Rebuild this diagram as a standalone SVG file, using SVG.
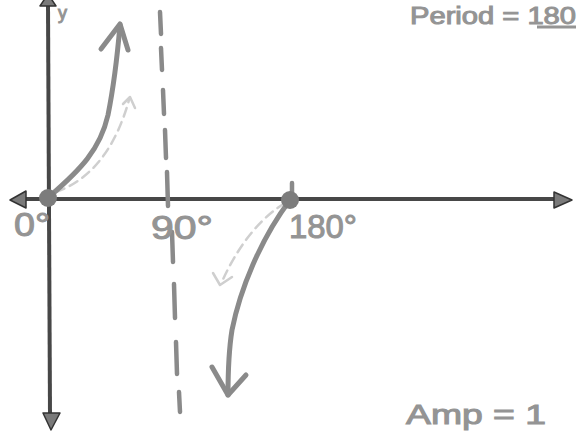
<svg xmlns="http://www.w3.org/2000/svg" width="580" height="434" viewBox="0 0 580 434">
<style>
.axis{stroke:#474747;stroke-width:4;fill:none}
.head{fill:#7a7a7a;stroke:#333;stroke-width:1.5;stroke-linejoin:round}
.curve{stroke:#8a8a8a;stroke-width:5;fill:none;stroke-linecap:round;stroke-linejoin:round}
.light{stroke:#cfcfcf;stroke-width:2.5;fill:none;stroke-linecap:round;stroke-dasharray:9 6}
.lighthead{stroke:#cfcfcf;stroke-width:2.5;fill:none;stroke-linecap:round;stroke-linejoin:round}
.asym{stroke:#8a8a8a;stroke-width:4.5;fill:none;stroke-linecap:round}
.lbl{font-family:"Liberation Sans",Arial,sans-serif;font-size:33px;fill:#949494;stroke:#949494;stroke-width:1}
.dot{fill:#7c7c7c}
</style>
<rect width="580" height="434" fill="#fff"/>
<g id="axes">
<line class="axis" x1="24" y1="199" x2="556" y2="199"/>
<polygon class="head" points="10,200 26,191 26,208"/>
<polygon class="head" points="572,200 554,192 554,208"/>
<line class="axis" x1="48" y1="4" x2="50" y2="415"/>
<polygon class="head" points="51,430 43,413 60,413"/>
<polygon class="head" points="48,-6 40,6 56,6"/>
</g>
<g id="asymptote">
<path class="asym" d="M160,12 L161,34 M161,48 L162,70 M163,90 L164,114 M165,130 L166,158 M167,172 L168,206 M172,232 L173,262 M174,284 L175,318 M176,342 L177,374 M179,392 L180,412"/>
</g>
<g id="ticks">
<line class="asym" x1="292" y1="183" x2="292" y2="195"/>
</g>
<g id="connectors">
<path class="light" d="M56,192 C90,180 115,150 129,100"/>
<path class="lighthead" d="M123,104 L130,97 L135,108"/>
<path class="curve" d="M50,196 C80,170 100,150 108,115 C113,90 117,60 120,25"/>
<path class="curve" d="M101,49 L120,24 L128,50"/>
<path class="light" d="M285,203 C265,215 240,240 221,284"/>
<path class="lighthead" d="M213,273 L220,285 L232,277"/>
<path class="curve" d="M290,200 C260,240 240,290 232,330 C228,355 228,375 228,395"/>
<path class="curve" d="M212,367 L228,395 L246,375"/>
</g>
<g id="origin"><circle class="dot" cx="48" cy="198" r="9"/></g>
<g id="p180"><circle class="dot" cx="290" cy="200" r="9"/></g>
<g id="labels">
<text class="lbl" x="14" y="236" textLength="36" lengthAdjust="spacingAndGlyphs">0°</text>
<text class="lbl" x="151" y="239" textLength="62" lengthAdjust="spacingAndGlyphs">90°</text>
<text class="lbl" x="289" y="238" textLength="68" lengthAdjust="spacingAndGlyphs">180°</text>
<text class="lbl" x="410" y="24" style="font-size:23px" textLength="166" lengthAdjust="spacingAndGlyphs">Period = 180</text>
<line x1="537" y1="27" x2="576" y2="27" stroke="#949494" stroke-width="3"/>
<text class="lbl" x="406" y="424" style="font-size:27px" textLength="140" lengthAdjust="spacingAndGlyphs">Amp = 1</text>
<text class="lbl" x="58" y="19" style="font-size:18px">y</text>
</g>
</svg>
